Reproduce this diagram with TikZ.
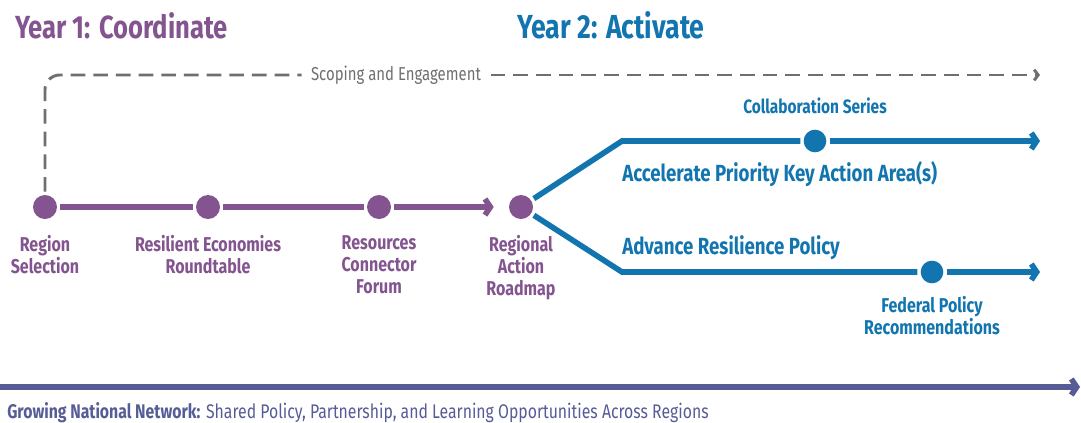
\documentclass[tikz,border=0pt]{standalone}
\usepackage{fontspec}
\setmainfont[FakeStretch=0.8]{Fira Sans}
\usetikzlibrary{positioning,arrows.meta}
\definecolor{rpurple}{HTML}{83548F}
\definecolor{rblue}{HTML}{1275AF}
\definecolor{rslate}{HTML}{565C96}
\definecolor{rgray}{HTML}{6F6F6F}
\begin{document}
\begin{tikzpicture}[x=0.75pt,y=-0.75pt,
	dot/.style={circle,fill=#1,inner sep=0pt,minimum size=18pt,outer sep=2.5pt},
	lbl/.style={text=#1,font=\bfseries\fontsize{15}{16.5}\selectfont,align=center,inner sep=0pt},
	head/.style={text=#1,font=\bfseries\fontsize{17.5}{17.5}\selectfont,inner sep=0pt},
	track/.style={draw=#1,line width=4.2pt},
	dashline/.style={draw=rgray,line width=2.2pt,dash pattern=on 11pt off 6pt},
	barb/.style={-{Straight Barb[length=4pt,width=12pt]}}]
\useasboundingbox (0,0) rectangle (1081,422);
% titles
\node[anchor=base west,text=rpurple,font=\bfseries\fontsize{24}{24}\selectfont,inner sep=0pt] (yone) at (15,38) {Year 1: Coordinate};
\node[anchor=base west,text=rblue,font=\bfseries\fontsize{25}{25}\selectfont,inner sep=0pt] (ytwo) at (517,38) {Year 2: Activate};
% year 1
\node[dot=rpurple] (reg) at (45,207) {};
\node[dot=rpurple] (rer) at (208,207) {};
\node[dot=rpurple] (rcf) at (379,207) {};
\node[dot=rpurple] (rar) at (521,207) {};
\node[lbl=rpurple,below=9.5pt of reg] (regl) {Region\\Selection};
\node[lbl=rpurple,below=9.5pt of rer] (rerl) {Resilient Economies\\Roundtable};
\node[lbl=rpurple,below=9.5pt of rcf] (rcfl) {Resources\\Connector\\Forum};
\node[lbl=rpurple,below=9.5pt of rar] (rarl) {Regional\\Action\\Roadmap};
\draw[track=rpurple] (reg) -- (rer);
\draw[track=rpurple] (rer) -- (rcf);
\draw[track=rpurple,barb,shorten >=9pt] (rcf) -- (rar);
% scoping
\node[text=rgray,font=\fontsize{14}{14}\selectfont,inner sep=7pt] (sc) at (396,75) {Scoping and Engagement};
\coordinate (se) at (1040,75);
\draw[dashline,rounded corners=11pt] (reg.north) |- (sc.west);
\draw[dashline,-{Straight Barb[length=3pt,width=8pt]}] (sc) -- (se);
% year 2
\coordinate (ub) at (622,141);
\coordinate (lb) at (622,272);
\node[dot=rblue,minimum size=17pt] (cs) at (815,141) {};
\node[dot=rblue,minimum size=17pt] (fpr) at (932,272) {};
\coordinate (ue) at (1040,141);
\coordinate (le) at (1040,272);
\draw[track=rblue] (rar) -- (ub) -- (cs);
\draw[track=rblue,barb] (cs) -- (ue);
\draw[track=rblue] (rar) -- (lb) -- (fpr);
\draw[track=rblue,barb] (fpr) -- (le);
\node[lbl=rblue,font=\bfseries\fontsize{14.5}{14.5}\selectfont,above=9pt of cs] (csl) {Collaboration Series};
\node[lbl=rblue,below=7pt of fpr] (fprl) {Federal Policy\\Recommendations};
\node[head=rblue,below right=15pt and 0pt of ub] (acc) {Accelerate Priority Key Action Area(s)};
\node[head=rblue,above right=9pt and 0pt of lb] (adv) {Advance Resilience Policy};
% network
\coordinate (ns) at (0,387);
\coordinate (ne) at (1080,387);
\draw[track=rslate,barb] (ns) -- (ne);
\node[anchor=base west,text=rslate,font=\fontsize{14.8}{14.8}\selectfont,inner sep=0pt] (gnn) at (7,418) {\textbf{Growing National Network:} Shared Policy, Partnership, and Learning Opportunities Across Regions};
\end{tikzpicture}
\end{document}
